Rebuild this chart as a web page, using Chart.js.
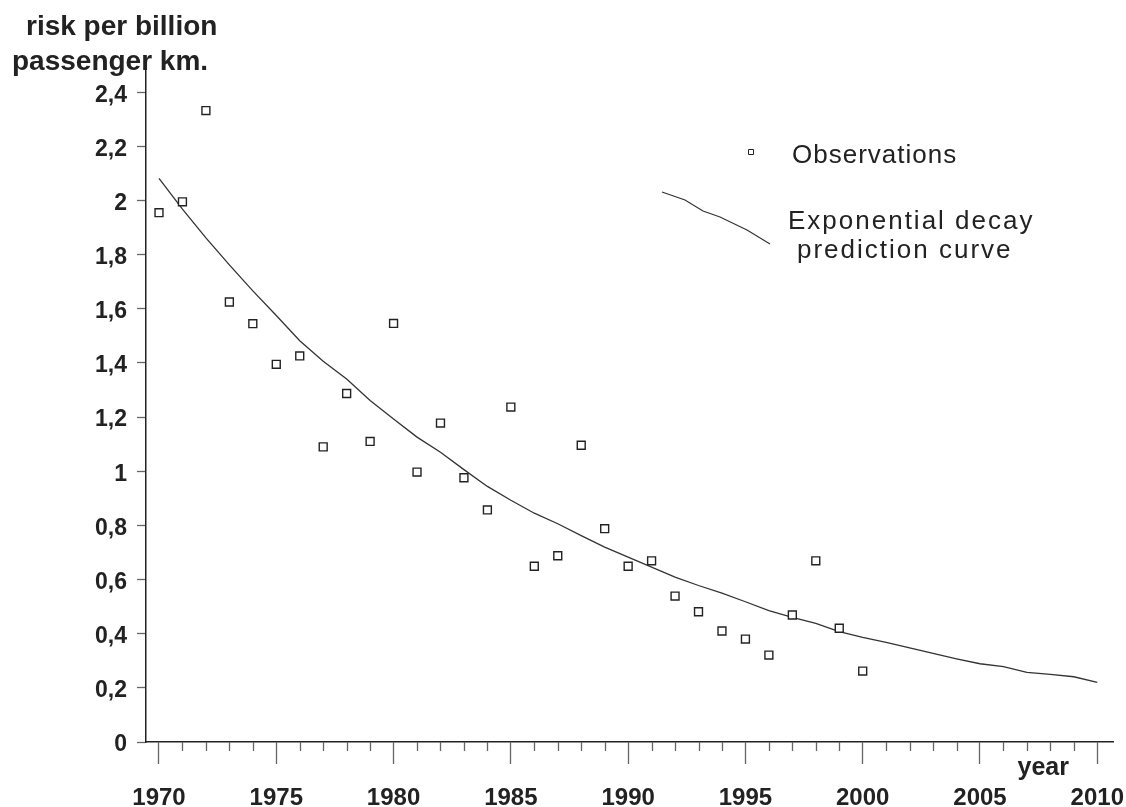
<!DOCTYPE html>
<html><head><meta charset="utf-8">
<script src="https://cdn.jsdelivr.net/npm/chart.js@4.4.1/dist/chart.umd.min.js"></script>
<style>html,body{margin:0;padding:0;background:#fff;} canvas{display:block;}</style>
</head><body>
<canvas id="c" width="1126" height="807"></canvas>
<script>
// ---- data ----
const obsYears = [1970,1971,1972,1973,1974,1975,1976,1977,1978,1979,1980,1981,1982,1983,1984,1985,1986,1987,1988,1989,1990,1991,1992,1993,1994,1995,1996,1997,1998,1999,2000];
const obsValues = [1.955,1.995,2.332,1.625,1.545,1.395,1.426,1.09,1.287,1.11,1.546,0.997,1.178,0.976,0.857,1.237,0.649,0.688,1.096,0.788,0.649,0.669,0.539,0.481,0.41,0.38,0.321,0.469,0.669,0.42,0.262];
const predYears = [1970,1971,1972,1973,1974,1975,1976,1977,1978,1979,1980,1981,1982,1983,1984,1985,1986,1987,1988,1989,1990,1991,1992,1993,1994,1995,1996,1997,1998,1999,2000,2001,2002,2003,2004,2005,2006,2007,2008,2009,2010];
const predValues = [2.082,1.968,1.862,1.762,1.666,1.575,1.482,1.406,1.341,1.261,1.193,1.126,1.07,1.006,0.944,0.893,0.845,0.806,0.762,0.72,0.683,0.646,0.609,0.578,0.55,0.518,0.485,0.46,0.438,0.408,0.386,0.368,0.348,0.327,0.307,0.289,0.278,0.257,0.25,0.241,0.22];
const xTickValues = [1970,1975,1980,1985,1990,1995,2000,2005,2010];
const xTickLabels = ['1970','1975','1980','1985','1990','1995','2000','2005','2010'];
const xMinorYears = predYears;
const yTickValues = [0,0.2,0.4,0.6,0.8,1,1.2,1.4,1.6,1.8,2,2.2,2.4];
const yTickLabels = ['0','0,2','0,4','0,6','0,8','1','1,2','1,4','1,6','1,8','2','2,2','2,4'];
const yAxisTitle = ['risk per billion','passenger km.'];
const xAxisTitle = 'year';
const legendObs = 'Observations';
const legendPred = ['Exponential decay','prediction curve'];

const INK = '#222';
const TICK = '#666';
const FONT = '"Liberation Sans", Arial, Helvetica, sans-serif';

const decorPlugin = {
  id: 'decor',
  afterDraw(chart) {
    const ctx = chart.ctx;
    const xs = chart.scales.x;
    const bottom = chart.chartArea.bottom;
    ctx.save();
    // minor yearly ticks
    ctx.strokeStyle = TICK;
    ctx.lineWidth = 1.3;
    xMinorYears.forEach(yr => {
      if (xTickValues.includes(yr)) return;
      const px = Math.round(xs.getPixelForValue(yr)) + 0.5;
      ctx.beginPath();
      ctx.moveTo(px, bottom);
      ctx.lineTo(px, bottom + 9);
      ctx.stroke();
    });
    // y axis title
    ctx.fillStyle = INK;
    ctx.textAlign = 'left';
    ctx.textBaseline = 'alphabetic';
    ctx.font = 'bold 28px ' + FONT;
    ctx.fillText(yAxisTitle[0], 26, 35);
    ctx.fillText(yAxisTitle[1], 12, 70);
    // x axis title
    ctx.font = 'bold 25px ' + FONT;
    ctx.textAlign = 'right';
    ctx.fillText(xAxisTitle, 1069, 775);
    // legend
    ctx.textAlign = 'left';
    ctx.font = '26px ' + FONT;
    ctx.letterSpacing = '1px';
    ctx.fillText(legendObs, 792, 163);
    ctx.letterSpacing = '2px';
    ctx.fillText(legendPred[0], 788, 229);
    ctx.fillText(legendPred[1], 797, 258);
    ctx.letterSpacing = '0px';
    ctx.strokeStyle = INK;
    ctx.lineWidth = 1;
    ctx.fillStyle = '#fff';
    ctx.beginPath();
    ctx.rect(748.5, 149.5, 5, 5);
    ctx.fill();
    ctx.stroke();
    ctx.lineWidth = 1.2;
    ctx.strokeStyle = '#333';
    ctx.beginPath();
    ctx.moveTo(662, 192);
    ctx.lineTo(685, 200);
    ctx.lineTo(703, 211);
    ctx.lineTo(720, 217);
    ctx.lineTo(747, 230);
    ctx.lineTo(770, 244);
    ctx.stroke();
    ctx.restore();
  }
};

new Chart(document.getElementById('c'), {
  type: 'scatter',
  data: {
    datasets: [
      {
        label: 'Exponential decay prediction curve',
        type: 'line',
        data: predYears.map((x, i) => ({x, y: predValues[i]})),
        borderColor: '#333',
        borderWidth: 1.3,
        pointRadius: 0,
        tension: 0,
        fill: false,
        order: 2
      },
      {
        label: 'Observations',
        data: obsYears.map((x, i) => ({x, y: obsValues[i]})),
        pointStyle: 'rect',
        pointRadius: 5.6,
        pointBorderWidth: 1.4,
        pointBorderColor: INK,
        pointBackgroundColor: '#fff',
        order: 1
      }
    ]
  },
  options: {
    responsive: false,
    devicePixelRatio: 1,
    animation: false,
    layout: { padding: { top: 67, right: 13, left: 0, bottom: 0 } },
    plugins: { legend: { display: false }, title: { display: false }, tooltip: { enabled: false } },
    scales: {
      x: {
        type: 'linear',
        position: 'bottom',
        min: 1969.446,
        max: 2010.67,
        afterFit: s => { s.height = 65; s.paddingLeft = 0; s.paddingRight = 0; },
        afterBuildTicks: s => { s.ticks = xTickValues.map(v => ({value: v})); },
        ticks: {
          autoSkip: false,
          maxRotation: 0,
          padding: 20,
          color: INK,
          font: { family: FONT, size: 24, weight: 'bold' },
          callback: (v, i) => xTickLabels[i]
        },
        grid: { display: true, drawOnChartArea: false, drawTicks: true, tickLength: 22, tickColor: TICK, tickWidth: 1.3 },
        border: { display: true, color: INK, width: 1.5 }
      },
      y: {
        type: 'linear',
        min: 0,
        max: 2.493,
        afterFit: s => { s.width = 146; s.paddingTop = 0; s.paddingBottom = 0; },
        afterBuildTicks: s => { s.ticks = yTickValues.map(v => ({value: v})); },
        ticks: {
          autoSkip: false,
          padding: 10,
          labelOffset: 3,
          color: INK,
          font: { family: FONT, size: 23, weight: 'bold' },
          callback: (v, i) => yTickLabels[i]
        },
        grid: { display: true, drawOnChartArea: false, drawTicks: true, tickLength: 9, tickColor: TICK, tickWidth: 1.3 },
        border: { display: true, color: INK, width: 1.5 }
      }
    }
  },
  plugins: [decorPlugin]
});
</script>
</body></html>
